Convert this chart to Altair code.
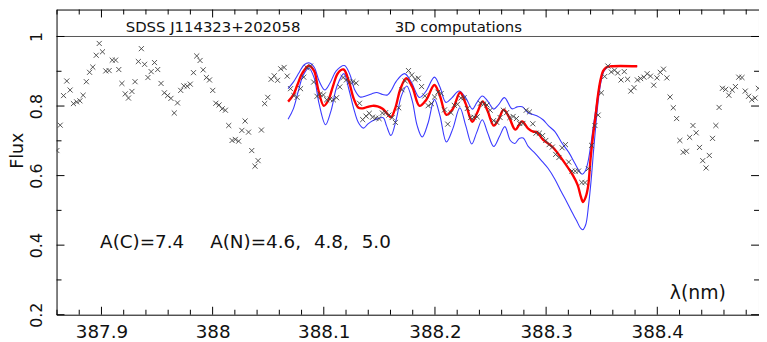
import altair as alt
import pandas as pd

# ---------------- data ----------------
obs_wl = [
    387.8599, 387.8629, 387.8659, 387.8688, 387.8718, 387.8748, 387.8777, 387.8806, 387.8835, 387.8864,
    387.8893, 387.8922, 387.8953, 387.8980, 387.9009, 387.9039, 387.9069, 387.9097, 387.9127, 387.9156,
    387.9184, 387.9214, 387.9243, 387.9274, 387.9302, 387.9332, 387.9359, 387.9388, 387.9418, 387.9447,
    387.9477, 387.9506, 387.9536, 387.9566, 387.9595, 387.9625, 387.9655, 387.9684, 387.9713, 387.9741,
    387.9771, 387.9799, 387.9828, 387.9857, 387.9887, 387.9915, 387.9944, 387.9972, 388.0001, 388.0029,
    388.0058, 388.0086, 388.0115, 388.0145, 388.0175, 388.0204, 388.0234, 388.0263, 388.0292, 388.0323,
    388.0352, 388.0381, 388.0409, 388.0439, 388.0468, 388.0496, 388.0526, 388.0554, 388.0584, 388.0613,
    388.0643, 388.0671, 388.0701, 388.0731, 388.0760, 388.0791, 388.0820, 388.0849, 388.0880, 388.0909,
    388.0939, 388.0967, 388.0996, 388.1026, 388.1056, 388.1086, 388.1115, 388.1144, 388.1174, 388.1203,
    388.1233, 388.1262, 388.1291, 388.1321, 388.1350, 388.1380, 388.1409, 388.1439, 388.1468, 388.1497,
    388.1527, 388.1556, 388.1586, 388.1615, 388.1644, 388.1674, 388.1703, 388.1733, 388.1762, 388.1791,
    388.1821, 388.1850, 388.1880, 388.1909, 388.1939, 388.1968, 388.1997, 388.2027, 388.2056, 388.2086,
    388.2115, 388.2144, 388.2174, 388.2203, 388.2233, 388.2262, 388.2291, 388.2321, 388.2350, 388.2380,
    388.2409, 388.2439, 388.2468, 388.2497, 388.2527, 388.2556, 388.2586, 388.2615, 388.2644, 388.2674,
    388.2703, 388.2733, 388.2762, 388.2791, 388.2821, 388.2850, 388.2880, 388.2909, 388.2939, 388.2968,
    388.2997, 388.3027, 388.3056, 388.3086, 388.3115, 388.3144, 388.3174, 388.3203, 388.3233, 388.3262,
    388.3291, 388.3321, 388.3350, 388.3380, 388.3409, 388.3439, 388.3468, 388.3497, 388.3527, 388.3556,
    388.3586, 388.3615, 388.3644, 388.3674, 388.3703, 388.3733, 388.3762, 388.3791, 388.3821, 388.3850,
    388.3880, 388.3909, 388.3939, 388.3968, 388.3997, 388.4027, 388.4056, 388.4086, 388.4115, 388.4144,
    388.4174, 388.4203, 388.4233, 388.4262, 388.4291, 388.4321, 388.4350, 388.4380, 388.4409, 388.4439,
    388.4468, 388.4497, 388.4527, 388.4556, 388.4586, 388.4615, 388.4644, 388.4674, 388.4703, 388.4733,
    388.4762, 388.4791, 388.4821, 388.4850, 388.4880, 388.4909,
]
obs_flux = [
    0.672, 0.745, 0.830, 0.872, 0.846, 0.807, 0.812, 0.815, 0.831, 0.870,
    0.897, 0.912, 0.946, 0.980, 0.956, 0.901, 0.902, 0.932, 0.932, 0.905,
    0.865, 0.835, 0.823, 0.842, 0.870, 0.928, 0.965, 0.920, 0.882, 0.899,
    0.925, 0.905, 0.865, 0.838, 0.830, 0.822, 0.780, 0.809, 0.845, 0.858,
    0.857, 0.863, 0.896, 0.944, 0.931, 0.904, 0.882, 0.875, 0.845, 0.808,
    0.803, 0.792, 0.788, 0.744, 0.701, 0.704, 0.699, 0.730, 0.757, 0.725,
    0.672, 0.627, 0.643, 0.731, 0.807, 0.825, 0.877, 0.887, 0.874, 0.907,
    0.911, 0.886, 0.850, 0.830, 0.825, 0.850, 0.883, 0.910, 0.915, 0.869,
    0.828, 0.834, 0.832, 0.818, 0.820, 0.818, 0.824, 0.855, 0.882, 0.875,
    0.869, 0.870, 0.866, 0.808, 0.761, 0.771, 0.779, 0.768, 0.765, 0.764,
    0.780, 0.781, 0.774, 0.767, 0.753, 0.795, 0.847, 0.872, 0.902, 0.889,
    0.877, 0.880, 0.856, 0.829, 0.801, 0.807, 0.826, 0.840, 0.836, 0.789,
    0.748, 0.781, 0.802, 0.805, 0.823, 0.824, 0.793, 0.767, 0.768, 0.769,
    0.808, 0.806, 0.803, 0.788, 0.758, 0.753, 0.767, 0.788, 0.781, 0.767,
    0.770, 0.764, 0.750, 0.750, 0.788, 0.783, 0.749, 0.722, 0.722, 0.715,
    0.701, 0.689, 0.682, 0.661, 0.652, 0.680, 0.689, 0.639, 0.613, 0.613,
    0.613, 0.580, 0.580, 0.620, 0.687, 0.744, 0.774, 0.838, 0.885, 0.915,
    0.898, 0.903, 0.895, 0.875, 0.899, 0.877, 0.843, 0.853, 0.875, 0.879,
    0.883, 0.893, 0.886, 0.860, 0.881, 0.897, 0.906, 0.881, 0.826, 0.795,
    0.764, 0.701, 0.667, 0.670, 0.710, 0.744, 0.723, 0.681, 0.643, 0.622,
    0.658, 0.707, 0.744, 0.796, 0.851, 0.848, 0.831, 0.846, 0.856, 0.883,
    0.882, 0.843, 0.828, 0.818, 0.823, 0.851,
]

# 3D model, A(N) = 4.8 (red)
red_wl = [
    388.0679, 388.0726, 388.0762, 388.0807, 388.0866, 388.0914, 388.0949, 388.1000, 388.1038, 388.1083,
    388.1127, 388.1178, 388.1225, 388.1270, 388.1312, 388.1350, 388.1395, 388.1439, 388.1484, 388.1529,
    388.1564, 388.1604, 388.1644, 388.1689, 388.1742, 388.1796, 388.1861, 388.1921, 388.1995, 388.2045,
    388.2103, 388.2161, 388.2226, 388.2277, 388.2335, 388.2380, 388.2429, 388.2473, 388.2529, 388.2571,
    388.2619, 388.2669, 388.2723, 388.2783, 388.2839, 388.2883, 388.2916, 388.2972, 388.3062, 388.3151,
    388.3240, 388.3284, 388.3311, 388.3332, 388.3356, 388.3378, 388.3400, 388.3422, 388.3445, 388.3467,
    388.3489, 388.3512, 388.3543, 388.3587, 388.3819,
]
red_flux = [
    0.8128, 0.8319, 0.8604, 0.8946, 0.9160, 0.9003, 0.8490, 0.8006, 0.8148, 0.8575,
    0.8946, 0.9051, 0.8718, 0.8205, 0.7949, 0.7934, 0.7977, 0.8006, 0.7991, 0.7920,
    0.7806, 0.7678, 0.7949, 0.8490, 0.8803, 0.8547, 0.8006, 0.8177, 0.8604, 0.8291,
    0.7749, 0.7920, 0.8390, 0.8063, 0.7550, 0.7806, 0.8134, 0.7863, 0.7436, 0.7607,
    0.7897, 0.7664, 0.7322, 0.7558, 0.7350, 0.7265, 0.7251, 0.7037, 0.6809, 0.6439,
    0.6011, 0.5726, 0.5413, 0.5242, 0.5385, 0.5698, 0.6496, 0.7151, 0.7721, 0.8319,
    0.8746, 0.9003, 0.9117, 0.9145, 0.9145,
]

# 3D model, A(N) = 4.6 (blue, upper)
b46_wl = [
    388.0679, 388.0726, 388.0780, 388.0824, 388.0866, 388.0914, 388.0958, 388.1009, 388.1056, 388.1110,
    388.1185, 388.1234, 388.1279, 388.1326, 388.1377, 388.1430, 388.1475, 388.1529, 388.1573, 388.1609,
    388.1653, 388.1727, 388.1787, 388.1861, 388.1921, 388.1995, 388.2045, 388.2099, 388.2152, 388.2217,
    388.2277, 388.2337, 388.2375, 388.2426, 388.2473, 388.2529, 388.2571, 388.2625, 388.2693, 388.2741,
    388.2785, 388.2839, 388.2916, 388.2972, 388.3020, 388.3079, 388.3139, 388.3204, 388.3258, 388.3293,
    388.3324, 388.3351, 388.3376, 388.3400, 388.3422, 388.3445, 388.3467, 388.3489, 388.3516, 388.3552,
    388.3596, 388.3819,
]
b46_flux = [
    0.8504, 0.8689, 0.8974, 0.9188, 0.9245, 0.9117, 0.8718, 0.8462, 0.8661, 0.9003,
    0.9165, 0.8917, 0.8462, 0.8262, 0.8291, 0.8348, 0.8390, 0.8333, 0.8319, 0.8462,
    0.8718, 0.8932, 0.8689, 0.8248, 0.8433, 0.8832, 0.8547, 0.8105, 0.8234, 0.8433,
    0.8234, 0.7912, 0.8091, 0.8291, 0.8148, 0.7912, 0.8034, 0.8242, 0.7920, 0.7977,
    0.7977, 0.7806, 0.7721, 0.7607, 0.7436, 0.7265, 0.6952, 0.6667, 0.6353, 0.6154,
    0.6040, 0.6125, 0.6382, 0.6838, 0.7350, 0.7863, 0.8348, 0.8746, 0.9003, 0.9131,
    0.9145, 0.9145,
]

# 3D model, A(N) = 5.0 (blue, lower)
b50_wl = [
    388.0679, 388.0726, 388.0771, 388.0815, 388.0866, 388.0914, 388.0958, 388.1016, 388.1065, 388.1119,
    388.1181, 388.1225, 388.1270, 388.1312, 388.1357, 388.1395, 388.1439, 388.1484, 388.1535, 388.1564,
    388.1604, 388.1653, 388.1698, 388.1747, 388.1796, 388.1840, 388.1885, 388.1939, 388.1995, 388.2045,
    388.2103, 388.2161, 388.2224, 388.2277, 388.2331, 388.2375, 388.2426, 388.2473, 388.2529, 388.2580,
    388.2629, 388.2678, 388.2718, 388.2758, 388.2794, 388.2839, 388.2901, 388.2964, 388.3017, 388.3079,
    388.3133, 388.3186, 388.3231, 388.3275, 388.3307, 388.3329, 388.3356, 388.3382, 388.3405, 388.3427,
    388.3449, 388.3471, 388.3493, 388.3520, 388.3561, 388.3614, 388.3819,
]
b50_flux = [
    0.7621, 0.7920, 0.8433, 0.8889, 0.9088, 0.8803, 0.8063, 0.7464, 0.7863, 0.8575,
    0.8932, 0.8490, 0.7920, 0.7521, 0.7365, 0.7479, 0.7578, 0.7635, 0.7664, 0.7436,
    0.7151, 0.7635, 0.8291, 0.8575, 0.8148, 0.7436, 0.7108, 0.7521, 0.8191, 0.7721,
    0.6966, 0.7350, 0.7949, 0.7436, 0.6909, 0.7236, 0.7607, 0.7236, 0.6838, 0.7123,
    0.7407, 0.7009, 0.6923, 0.7066, 0.7080, 0.6838, 0.6638, 0.6410, 0.6211, 0.5897,
    0.5556, 0.5242, 0.4957, 0.4701, 0.4501, 0.4444, 0.4587, 0.5157, 0.5869, 0.6724,
    0.7521, 0.8205, 0.8689, 0.9003, 0.9131, 0.9145, 0.9145,
]

# axis ticks
x_major = [387.9, 388.0, 388.1, 388.2, 388.3, 388.4]
x_minor = [387.86, 387.88, 387.92, 387.94, 387.96, 387.98, 388.02, 388.04, 388.06, 388.08,
           388.12, 388.14, 388.16, 388.18, 388.22, 388.24, 388.26, 388.28, 388.32, 388.34,
           388.36, 388.38, 388.42, 388.44, 388.46, 388.48]
y_major = [0.2, 0.4, 0.6, 0.8, 1.0]
y_minor = [0.3, 0.5, 0.7, 0.9]

# ---------------- chart ----------------
W, H = 709, 308
FONT = "DejaVu Sans"
TXT = "#111111"

xs = alt.Scale(domain=[387.8596, 388.4915], nice=False, zero=False)
ys = alt.Scale(domain=[0.2, 1.0775], nice=False, zero=False)

xax = alt.Axis(values=x_major, format=".4~r", title=None, ticks=False, tickSize=0, domain=False,
               grid=False, labelFont=FONT, labelFontSize=18.5, labelColor=TXT, labelPadding=8,
               labelFlush=False, labelBaseline="top", labelFontWeight="normal")
yax = alt.Axis(values=y_major, format=".1~f", title="Flux", ticks=False, tickSize=0, domain=False,
               grid=False, labelFont=FONT, labelFontSize=16, labelColor=TXT, labelAngle=270,
               labelAlign="center", labelBaseline="alphabetic", labelPadding=15,
               labelFontWeight="normal",
               titleFont=FONT, titleFontSize=17.5, titleFontWeight="normal", titleColor=TXT,
               titleAngle=270, titleAlign="center", titleBaseline="top", titleX=-48, titleY=142)


def X(field):
    return alt.X(field, type="quantitative", scale=xs, axis=xax)


def Y(field):
    return alt.Y(field, type="quantitative", scale=ys, axis=yax)


def XD(v):
    return alt.XDatum(v, type="quantitative", scale=xs, axis=xax)


def YD(v):
    return alt.YDatum(v, type="quantitative", scale=ys, axis=yax)


obs = pd.DataFrame({"wl": obs_wl, "flux": obs_flux})
red = pd.DataFrame({"wl": red_wl, "flux": red_flux})
b46 = pd.DataFrame({"wl": b46_wl, "flux": b46_flux})
b50 = pd.DataFrame({"wl": b50_wl, "flux": b50_flux})
one = pd.DataFrame({"k": [0]})

layers = []

# continuum line at 1
layers.append(alt.Chart(one).mark_rule(color="#555555", strokeWidth=1).encode(y=YD(1.0)))

# model curves
for df in (b46, b50):
    layers.append(alt.Chart(df).mark_line(color="#3a3aff", strokeWidth=1.1, interpolate="catmull-rom",
                                          clip=True).encode(x=X("wl"), y=Y("flux")))
layers.append(alt.Chart(red).mark_line(color="#ff0000", strokeWidth=2.4, interpolate="catmull-rom",
                                       clip=True).encode(x=X("wl"), y=Y("flux")))

# observed spectrum (crosses)
layers.append(alt.Chart(obs).mark_point(shape="M-1,-1L1,1M-1,1L1,-1", size=26, filled=False,
                                        stroke="#404040", strokeWidth=0.9, opacity=1,
                                        clip=True).encode(x=X("wl"), y=Y("flux")))

# inward ticks on all four sides
xmaj = pd.DataFrame({"v": x_major})
xmin = pd.DataFrame({"v": x_minor})
ymaj = pd.DataFrame({"v": y_major})
ymin = pd.DataFrame({"v": y_minor})
for df, ln in ((xmaj, 8), (xmin, 5)):
    layers.append(alt.Chart(df).mark_rule(color="black", strokeWidth=1).encode(
        x=X("v"), y=alt.value(H), y2=alt.value(H - ln)))
    layers.append(alt.Chart(df).mark_rule(color="black", strokeWidth=1).encode(
        x=X("v"), y=alt.value(0), y2=alt.value(ln)))
for df, ln in ((ymaj, 8), (ymin, 5)):
    layers.append(alt.Chart(df).mark_rule(color="black", strokeWidth=1).encode(
        y=Y("v"), x=alt.value(0), x2=alt.value(ln)))
    layers.append(alt.Chart(df).mark_rule(color="black", strokeWidth=1).encode(
        y=Y("v"), x=alt.value(W), x2=alt.value(W - ln)))


# annotations
def label(text, x, y, size, align="left"):
    return alt.Chart(one).mark_text(text=text, font=FONT, fontSize=size, fontWeight="normal",
                                    color=TXT, align=align, baseline="alphabetic").encode(
        x=XD(x), y=YD(y))


layers.append(label("SDSS J114323+202058", 388.0004, 1.012, 15, "center"))
layers.append(label("3D computations", 388.2210, 1.012, 15, "center"))
layers.append(label("A(C)=7.4", 387.8988, 0.392, 18.5))
layers.append(label("A(N)=4.6,", 387.9978, 0.392, 18.5))
layers.append(label("4.8,", 388.0911, 0.392, 18.5))
layers.append(label("5.0", 388.1341, 0.392, 18.5))
layers.append(label("λ(nm)", 388.4113, 0.245, 19))

chart = alt.layer(*layers).properties(
    width=W, height=H,
    padding={"left": 49, "top": 0, "right": 0, "bottom": 26},
    autosize=alt.AutoSizeParams(type="none"),
    background="white",
).configure_view(stroke="black", strokeWidth=1)

chart.save("out.html", embed_options={"renderer": "svg", "actions": False})
